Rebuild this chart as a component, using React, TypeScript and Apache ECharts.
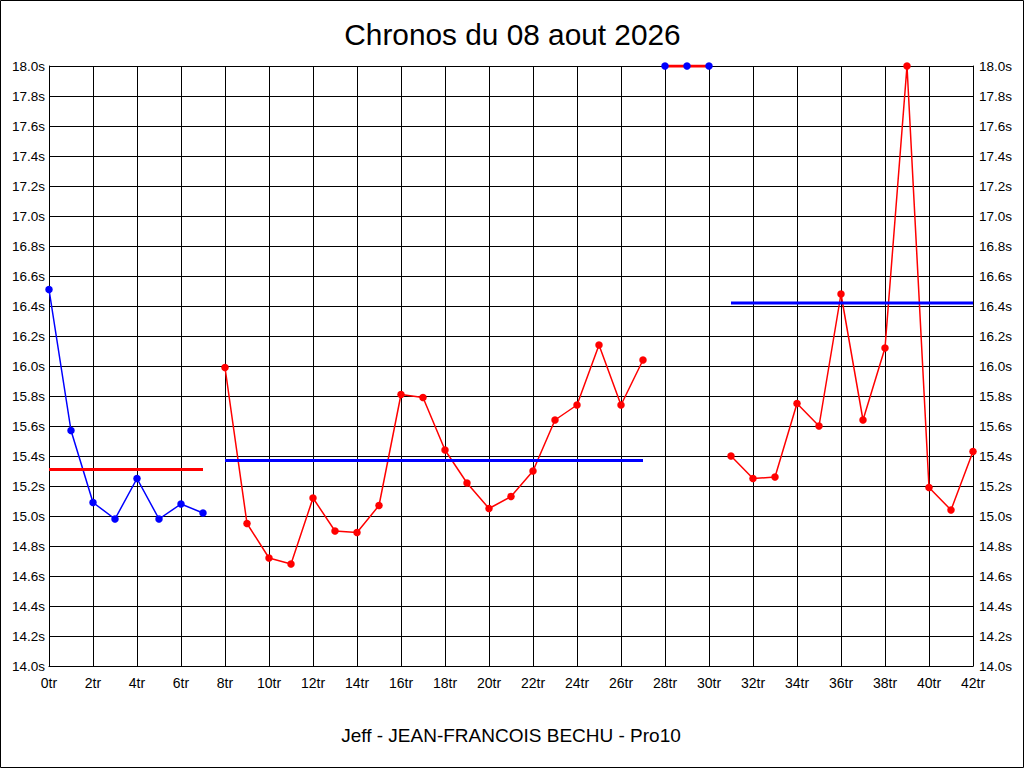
import React, { useEffect, useRef } from "react";
import * as echarts from "echarts";

const TITLE = "Chronos du 08 aout 2026";
const SUBTITLE = "Jeff - JEAN-FRANCOIS BECHU - Pro10";

const stint1Start = 0;
const stint1 = [16.51, 15.57, 15.09, 14.98, 15.25, 14.98, 15.08, 15.02];
const stint2Start = 8;
const stint2 = [15.99, 14.95, 14.72, 14.68, 15.12, 14.9, 14.89, 15.07, 15.81, 15.79, 15.44, 15.22, 15.05, 15.13, 15.3, 15.64, 15.74, 16.14, 15.74, 16.04];
const stint3Start = 28;
const stint3 = [18.0, 18.0, 18.0];
const stint4Start = 31;
const stint4 = [15.4, 15.25, 15.26, 15.75, 15.6, 16.48, 15.64, 16.12, 18.0, 15.19, 15.04, 15.43];
const averages = [15.31, 15.37, 18.0, 16.42];

const stints = [
  { start: stint1Start, values: stint1, color: "#0000ff", avgColor: "#ff0000" },
  { start: stint2Start, values: stint2, color: "#ff0000", avgColor: "#0000ff" },
  { start: stint3Start, values: stint3, color: "#0000ff", avgColor: "#ff0000" },
  { start: stint4Start, values: stint4, color: "#ff0000", avgColor: "#0000ff" },
];

const FONT = "Liberation Sans, Arial, sans-serif";

export default function App() {
  const ref = useRef<HTMLDivElement>(null);
  useEffect(() => {
    if (!ref.current) return;
    const chart = echarts.init(ref.current, null, { renderer: "svg" });
    const series: any[] = [];
    stints.forEach((s, i) => {
      const pts = s.values.map((v, k) => [s.start + k, v]);
      series.push({
        type: "line",
        data: pts,
        symbol: "none",
        lineStyle: { color: s.color, width: 1.5 },
        z: 2,
        silent: true,
      });
      series.push({
        type: "line",
        data: [
          [s.start, averages[i]],
          [s.start + s.values.length - 1, averages[i]],
        ],
        symbol: "none",
        lineStyle: { color: s.avgColor, width: 3 },
        z: 3,
        silent: true,
      });
      series.push({
        type: "scatter",
        data: pts,
        symbol: "circle",
        symbolSize: 7.5,
        itemStyle: { color: s.color, opacity: 1 },
        z: 4,
        silent: true,
      });
    });
    const yAxisBase = {
      type: "value",
      min: 14,
      max: 18,
      interval: 0.2,
      axisLine: { show: true, lineStyle: { color: "#000", width: 1 } },
      axisTick: { show: false },
      splitLine: { show: true, lineStyle: { color: "#000", width: 1 } },
      axisLabel: {
        color: "#000",
        fontFamily: FONT,
        fontSize: 13.5,
        formatter: (v: number) => v.toFixed(1) + "s",
      },
    };
    chart.setOption({
      animation: false,
      backgroundColor: "#fff",
      grid: { left: 49, right: 51, top: 66, bottom: 102, containLabel: false },
      xAxis: {
        type: "value",
        min: 0,
        max: 42,
        interval: 2,
        axisLine: { show: true, lineStyle: { color: "#000", width: 1 } },
        axisTick: { show: false },
        splitLine: { show: true, lineStyle: { color: "#000", width: 1 } },
        axisLabel: {
          color: "#000",
          fontFamily: FONT,
          fontSize: 14,
          margin: 10,
          formatter: (v: number) => `${v}tr`,
        },
      },
      yAxis: [
        { ...yAxisBase, position: "left", axisLabel: { ...yAxisBase.axisLabel, margin: 4 } },
        { ...yAxisBase, position: "right", splitLine: { show: false }, axisLabel: { ...yAxisBase.axisLabel, margin: 6 } },
      ],
      series,
      graphic: [
        {
          type: "rect",
          shape: { x: 0.5, y: 0.5, width: 1023, height: 767 },
          style: { fill: "none", stroke: "#000", lineWidth: 1 },
          silent: true,
        },
        {
          type: "text",
          x: 512.5,
          y: 34,
          style: {
            text: TITLE,
            font: `29.8px ${FONT}`,
            fill: "#000",
            textAlign: "center",
            textVerticalAlign: "middle",
          },
        },
        {
          type: "text",
          x: 511,
          y: 735,
          style: {
            text: SUBTITLE,
            font: `19px ${FONT}`,
            fill: "#000",
            textAlign: "center",
            textVerticalAlign: "middle",
          },
        },
      ],
    });
    return () => chart.dispose();
  }, []);
  return (
    <div
      ref={ref}
      style={{ position: "fixed", left: 0, top: 0, width: 1024, height: 768 }}
    />
  );
}
